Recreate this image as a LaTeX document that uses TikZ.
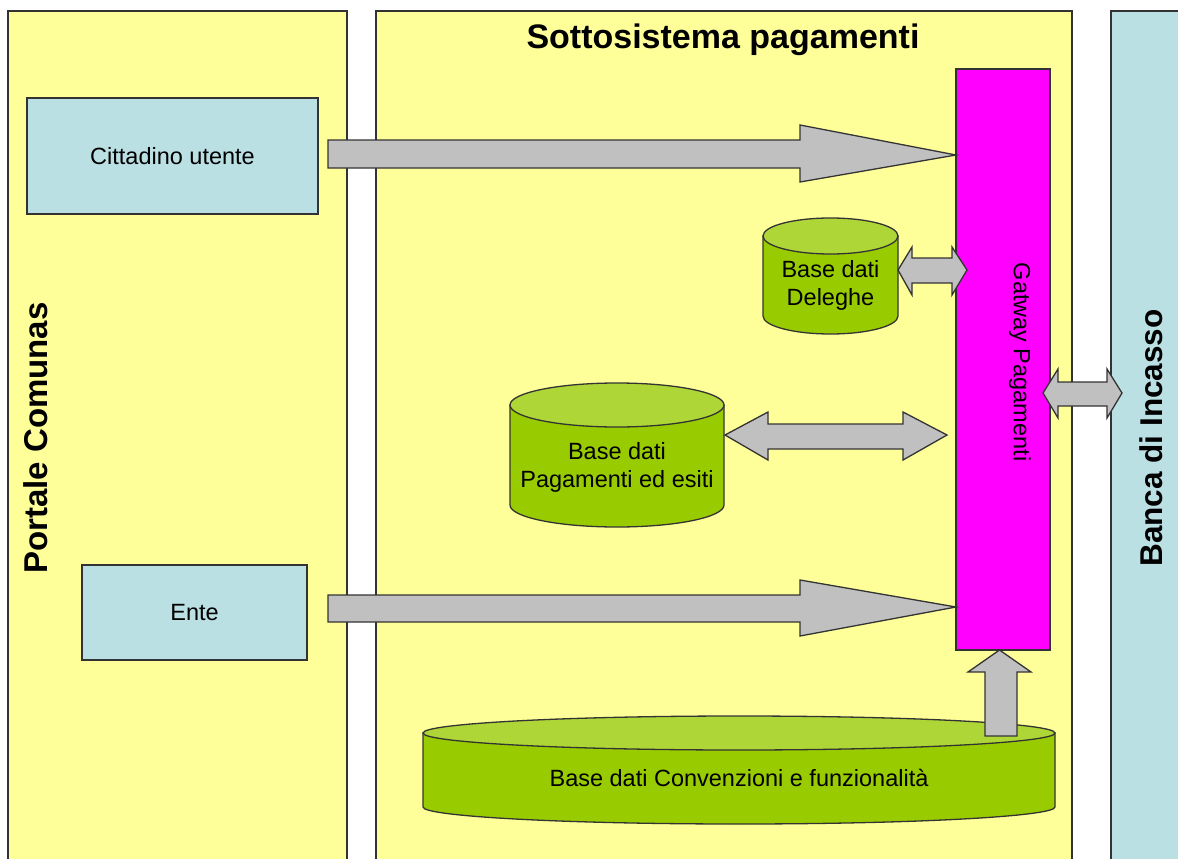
\documentclass[tikz,border=0pt]{standalone}
\usepackage{fontspec}
\setmainfont{Liberation Sans}
\definecolor{panelyellow}{HTML}{FFFF99}
\definecolor{boxblue}{HTML}{BBE0E3}
\definecolor{gatemag}{HTML}{FF00FF}
\definecolor{dbgreen}{HTML}{99CC00}
\definecolor{dbtop}{HTML}{AED637}
\definecolor{arrowgray}{HTML}{C0C0C0}
\definecolor{edge}{HTML}{333333}
\tikzset{
  outl/.style={draw=edge, line width=1.3pt},
  panel/.style={outl, fill=panelyellow},
  bluebox/.style={outl, fill=boxblue},
  blockarrow/.style={outl, fill=arrowgray, line join=miter},
  dbbody/.style={outl, fill=dbgreen},
  dbcap/.style={outl, fill=dbtop},
  lbl/.style={font=\fontsize{23.5}{28}\selectfont, text=black, align=center},
  biglbl/.style={font=\fontsize{33}{38}\selectfont\bfseries, text=black}
}
\begin{document}
\begin{tikzpicture}[x=1pt,y=-1pt]
\useasboundingbox (0,0) rectangle (1178,859);
% panels
\draw[panel] (8,864) -- (8,11) -- (347,11) -- (347,864);
\draw[panel] (376,864) -- (376,11) -- (1072,11) -- (1072,864);
\draw[bluebox] (1111,864) -- (1111,11) -- (1190,11) -- (1190,864);
\node[biglbl, font=\fontsize{34}{38}\selectfont\bfseries] (title) at (723,40) {Sottosistema pagamenti};
\node[biglbl, rotate=90] (portale) at (36,438) {Portale Comunas};
\node[biglbl, font=\fontsize{31.5}{36}\selectfont\bfseries, rotate=90] (banca) at (1151,438) {Banca di Incasso};
% blue boxes
\node[bluebox, lbl, minimum width=291pt, minimum height=116pt, inner sep=0pt] (citt) at (172.5,156) {Cittadino utente};
\node[bluebox, lbl, minimum width=225pt, minimum height=95pt, inner sep=0pt] (ente) at (194.5,612.5) {Ente};
% gateway
\node[outl, fill=gatemag, minimum width=94pt, minimum height=581pt, inner sep=0pt] (gw) at (1003,359.5) {};
\node[lbl, rotate=-90] (gwl) at (1020,362) {Gatway Pagamenti};
% arrows to gateway
\draw[blockarrow] (328,140) -- (800,140) -- (800,125) -- (956,155) -- (800,182) -- (800,168) -- (328,168) -- cycle;
\draw[blockarrow] (328,595) -- (800,595) -- (800,580) -- (956,607) -- (800,636) -- (800,622) -- (328,622) -- cycle;
% Deleghe DB
\draw[dbbody] (763,236) -- (763,316) arc[start angle=180, end angle=0, x radius=67.5, y radius=18] -- (898,236) -- cycle;
\draw[dbcap] (830.5,236) ellipse[x radius=67.5, y radius=18];
\node[lbl] (deleghe) at (830.5,285) {Base dati\\Deleghe};
\draw[blockarrow] (898,270) -- (912,247) -- (912,258) -- (952,258) -- (952,247) -- (967,270) -- (952,295) -- (952,283) -- (912,283) -- (912,295) -- cycle;
% Pagamenti DB
\draw[dbbody] (510,405) -- (510,505) arc[start angle=180, end angle=0, x radius=107, y radius=22] -- (724,405) -- cycle;
\draw[dbcap] (617,405) ellipse[x radius=107, y radius=22];
\node[lbl] (pagdb) at (617,467) {Base dati\\Pagamenti ed esiti};
\draw[blockarrow] (725,435) -- (768,412) -- (768,424) -- (903,424) -- (903,412) -- (947,435) -- (903,460) -- (903,449) -- (768,449) -- (768,460) -- cycle;
% bank arrow
\draw[blockarrow] (1043,393) -- (1058,369) -- (1058,382) -- (1107,382) -- (1107,369) -- (1122,393) -- (1107,418) -- (1107,406) -- (1058,406) -- (1058,418) -- cycle;
% Convenzioni DB
\draw[dbbody] (423,733) -- (423,807) arc[start angle=180, end angle=0, x radius=316, y radius=17] -- (1055,733) -- cycle;
\draw[dbcap] (739,733) ellipse[x radius=316, y radius=17];
\node[lbl] (conv) at (739,778) {Base dati Convenzioni e funzionalità};
% up arrow
\draw[blockarrow] (985,736) -- (985,672) -- (968,672) -- (999.5,650) -- (1031,672) -- (1017,672) -- (1017,736) -- cycle;
\end{tikzpicture}
\end{document}
